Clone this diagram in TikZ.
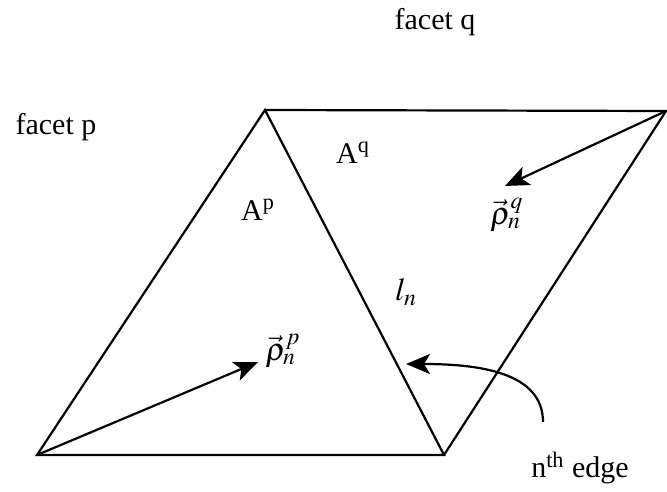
\documentclass[tikz,border=0pt]{standalone}
\usepackage{mathptmx}
\usepackage{fontspec}
\setmainfont{Liberation Serif}
\usetikzlibrary{arrows.meta}
\begin{document}
\begin{tikzpicture}[x=0.5pt,y=-0.5pt,
  edge/.style={line width=1.1pt},
  vec/.style={line width=1.1pt,-{Stealth[length=12pt,width=10pt,inset=3pt]}},
  lbl/.style={inner sep=0pt,font=\fontsize{15}{18}\selectfont}]
\useasboundingbox (0,0) rectangle (667,491);
\coordinate (L) at (37,455);
\coordinate (T) at (265,110);
\coordinate (B) at (444,455);
\coordinate (R) at (666,111);
\draw[edge] (L) -- (T) -- (B) -- cycle;
\draw[edge] (T) -- (R) -- (B);
\coordinate (tp) at (258,362);
\coordinate (tq) at (505,186);
\draw[vec] (L) -- (tp);
\draw[vec] (R) -- (tq);
\coordinate (cs) at (543,422);
\coordinate (ce) at (406,364);
\draw[vec] (cs) .. controls (543,372) and (478,364) .. (ce);
\node[lbl] (fq) at (435,22) {facet q};
\node[lbl] (fp) at (56,127) {facet p};
\node[lbl] (Aq) at (353,153) {A\textsuperscript{q}};
\node[lbl] (Ap) at (258,210) {A\textsuperscript{p}};
\node[lbl,font=\fontsize{16}{19}\selectfont] (rq) at (507,215) {$\vec{\rho}_n^{q}$};
\node[lbl,font=\fontsize{16}{19}\selectfont] (rp) at (283,351) {$\vec{\rho}_n^{p}$};
\node[lbl,font=\fontsize{16}{19}\selectfont] (ln) at (406,292) {$l_n$};
\node[lbl] (ne) at (580,468) {n\textsuperscript{th} edge};
\end{tikzpicture}
\end{document}
